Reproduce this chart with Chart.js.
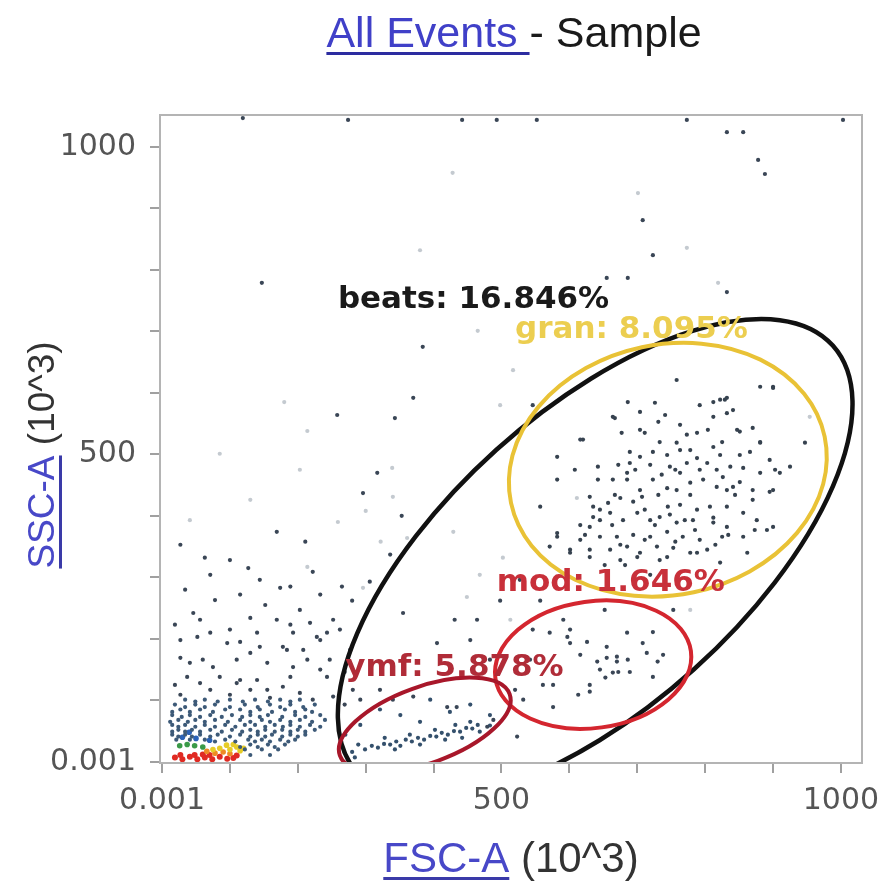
<!DOCTYPE html>
<html>
<head>
<meta charset="utf-8">
<script src="https://cdn.jsdelivr.net/npm/chart.js@4.4.1/dist/chart.umd.min.js"></script>
<style>
  html, body { margin: 0; padding: 0; background: #fff; }
  #wrap { width: 880px; height: 887px; }
</style>
</head>
<body>
<div id="wrap"><canvas id="plot" width="880" height="887"></canvas></div>
<script>
// axis ticks (FSC-A / SSC-A, x10^3)
const tickValues = [0, 100, 200, 300, 400, 500, 600, 700, 800, 900, 1000];
const tickLabels = { 0: '0.001', 500: '500', 1000: '1000' };

// gates: centre, end of long axis, end of short axis (data units)
const gateNames = ['beats', 'gran', 'mod', 'ymf'];
const gatePercents = ['16.846%', '8.095%', '1.646%', '5.878%'];
const gateCenters = [[638, 329], [745, 475], [635, 158], [387, 60]];
const gateMajorEnds = [[988, 677], [976, 529], [779, 180], [512, 110]];
const gateMinorEnds = [[492, 507], [784, 276], [648, 56], [407, 2]];

// events (FSC-A, SSC-A)
const scatterEvents = [
  [147, 779], [384, 675], [119, 1047], [274, 1044], [442, 1044], [493, 1044], [655, 787], [686, 787],
  [708, 881], [723, 824], [832, 1024], [856, 1024], [878, 979], [888, 956], [1003, 1044], [552, 1044],
  [773, 1044], [832, 764], [370, 592], [258, 564], [343, 559], [317, 470], [296, 437], [353, 400],
  [169, 374], [211, 358], [63, 332], [127, 315], [222, 309], [336, 337], [306, 293], [265, 285],
  [174, 283], [189, 285], [280, 262], [46, 242], [355, 242], [616, 524], [546, 580],
  [100, 215], [140, 210], [169, 231], [193, 210], [218, 226], [243, 210], [252, 231], [27, 198],
  [52, 203], [71, 210], [96, 193], [115, 195], [144, 187], [178, 187], [208, 182], [228, 203],
  [405, 193], [464, 231], [27, 169], [41, 161], [60, 166], [75, 154], [110, 166], [130, 177],
  [155, 161], [184, 182], [193, 154], [214, 166], [233, 150], [243, 138], [37, 138], [56, 128],
  [85, 138], [110, 128], [115, 133], [140, 133], [155, 117], [178, 122], [189, 138], [203, 112],
  [222, 101], [252, 106], [281, 117], [321, 117], [340, 101], [370, 106], [420, 89], [434, 89],
  [523, 41], [532, 101], [488, 68], [479, 57], [454, 198], [498, 262], [431, 231], [527, 296],
  [557, 262], [483, 166], [520, 117],
  [34, 280], [78, 263], [115, 272], [152, 255], [203, 247], [233, 272], [56, 231], [130, 234],
  [19, 223], [189, 223], [71, 304], [100, 328], [144, 296], [27, 353], [233, 198], [262, 215],
  [247, 166], [269, 146], [277, 182], [19, 125], [71, 117], [100, 109], [130, 117], [159, 104],
  [292, 101], [269, 93], [27, 109]
];
const faintEvents = [
  [465, 701], [428, 958], [701, 925], [773, 836], [819, 779], [214, 538], [85, 501], [180, 585],
  [339, 478], [340, 431], [300, 408], [259, 390], [322, 358], [429, 374], [361, 364], [214, 317],
  [296, 283], [498, 580], [502, 332], [468, 304], [449, 268], [517, 637], [611, 429], [954, 561],
  [130, 426], [41, 393], [203, 475], [380, 832], [513, 231], [778, 247]
];
const debrisEvents = [
  [34, 101], [63, 101], [100, 101], [137, 101], [174, 101], [203, 101],
  [19, 93], [49, 93], [78, 93], [122, 93], [159, 93], [189, 93], [225, 93],
  [27, 85], [56, 85], [93, 85], [115, 85], [144, 85], [181, 85], [211, 85],
  [15, 76], [41, 76], [71, 76], [103, 76], [130, 76], [156, 76], [196, 76], [233, 76],
  [24, 68], [49, 68], [78, 68], [115, 68], [147, 68], [174, 68], [203, 68], [240, 68],
  [15, 60], [34, 60], [63, 60], [93, 60], [122, 60], [137, 60], [166, 60], [189, 60], [218, 60],
  [24, 52], [44, 52], [71, 52], [103, 52], [130, 52], [152, 52], [177, 52], [200, 52], [225, 52],
  [15, 44], [34, 44], [56, 44], [82, 44], [115, 44], [141, 44], [162, 44], [189, 44], [211, 44],
  [21, 36], [41, 36], [63, 36], [93, 36], [127, 36], [147, 36], [174, 36], [196, 36],
  [130, 28], [156, 28], [181, 28], [122, 20], [147, 20], [171, 20], [130, 11], [159, 11],
  [49, 98], [82, 98], [119, 98], [156, 98], [189, 98],
  [34, 89], [63, 89], [100, 89], [141, 89], [174, 89], [208, 89],
  [15, 81], [41, 81], [75, 81], [130, 81], [162, 81], [196, 81], [221, 81],
  [29, 73], [56, 73], [88, 73], [118, 73], [144, 73], [177, 73], [211, 73],
  [12, 65], [38, 65], [63, 65], [97, 65], [130, 65], [159, 65], [189, 65], [221, 65],
  [24, 57], [49, 57], [78, 57], [108, 57], [152, 57], [178, 57], [203, 57], [233, 57],
  [15, 49], [34, 49], [56, 49], [88, 49], [118, 49], [141, 49], [166, 49], [189, 49], [211, 49],
  [24, 41], [44, 41], [71, 41], [100, 41], [130, 41], [152, 41], [177, 41], [200, 41],
  [78, 33], [108, 33], [137, 33], [159, 33], [186, 33], [115, 24], [141, 24], [166, 24]
];
const densityRed = [[19, 7], [30, 4], [41, 8], [52, 4], [63, 7], [74, 4], [85, 8], [96, 5], [27, 11], [48, 11], [70, 11], [105, 6], [110, 10], [60, 12]];
const densityOrange = [[78, 14], [90, 16], [100, 13], [66, 17]];
const densityYellow = [[85, 22], [100, 20], [110, 24], [115, 18], [95, 27], [75, 20], [105, 28], [120, 22]];
const densityGreen = [[26, 26], [37, 28], [48, 26], [60, 24]];
const densityBlue = [[30, 40], [50, 38], [70, 35], [40, 48]];
const ymfEvents = [
  [299, 20], [309, 26], [318, 23], [327, 29], [336, 28], [345, 33], [351, 26], [359, 36], [368, 33],
  [377, 39], [386, 36], [395, 42], [404, 41], [412, 47], [421, 44], [430, 50], [439, 49], [448, 55],
  [457, 54], [465, 60], [328, 39], [365, 44], [402, 52], [432, 60], [454, 65], [343, 20], [380, 28],
  [417, 36], [442, 39], [468, 49], [280, 16], [289, 28], [483, 59],
  [292, 60], [321, 85], [351, 76], [395, 101], [424, 81], [454, 93], [483, 76], [380, 65], [270, 44], [284, 7]
];
const modEvents = [
  [546, 215], [571, 210], [591, 231], [601, 215], [597, 203], [601, 193], [626, 195], [655, 187],
  [641, 163], [655, 169], [670, 171], [670, 163], [645, 150], [653, 137], [664, 145], [672, 146],
  [686, 166], [689, 146], [685, 210], [708, 193], [723, 211], [714, 177], [730, 163], [723, 138],
  [630, 125], [630, 114], [613, 109], [576, 89], [561, 125], [576, 125], [652, 247], [753, 247],
  [738, 174], [616, 174], [542, 166]
];
const granEvents = [
  [686, 585], [704, 569], [726, 584], [792, 580], [812, 585], [829, 589], [832, 567], [847, 540],
  [851, 537], [870, 543], [881, 520], [900, 610], [731, 553], [711, 535], [677, 535], [620, 524],
  [667, 559], [763, 548], [773, 532], [788, 535], [804, 540], [733, 520], [758, 519], [825, 520],
  [812, 512], [851, 499], [866, 504], [895, 491], [689, 504], [704, 496], [723, 504], [744, 499],
  [763, 507], [788, 494], [803, 486], [817, 475], [837, 480], [856, 478], [881, 470], [903, 475],
  [582, 496], [608, 475], [642, 480], [672, 483], [689, 486], [748, 480], [773, 486], [642, 459],
  [664, 459], [685, 459], [704, 442], [723, 459], [744, 445], [758, 442], [778, 454], [797, 459],
  [817, 447], [832, 442], [851, 455], [870, 442], [895, 439], [630, 431], [635, 415], [657, 421],
  [675, 429], [694, 423], [707, 431], [731, 434], [745, 415], [763, 418], [788, 410], [807, 415],
  [832, 415], [856, 405], [876, 393], [900, 382], [616, 385], [635, 398], [660, 405], [679, 393],
  [700, 405], [719, 393], [733, 398], [758, 389], [782, 393], [812, 389], [832, 382], [582, 366],
  [616, 361], [645, 366], [670, 366], [694, 369], [719, 366], [744, 374], [767, 366], [792, 361],
  [825, 366], [856, 366], [601, 345], [630, 345], [660, 345], [685, 350], [704, 340], [729, 350],
  [753, 348], [778, 340], [803, 345], [862, 340],
  [664, 561], [758, 621], [822, 589], [832, 592], [881, 610], [900, 608], [947, 519], [910, 470],
  [900, 442], [873, 377], [891, 377], [834, 369], [822, 324], [788, 340], [744, 333], [700, 333],
  [675, 328], [630, 333], [601, 340], [571, 350], [582, 372], [630, 382], [645, 393], [582, 459],
  [557, 415], [685, 470], [763, 470], [812, 561], [841, 572], [881, 519], [925, 480], [826, 463],
  [841, 447], [870, 426], [812, 397],
  [697, 475], [719, 483], [736, 467], [756, 475], [711, 410], [726, 385], [748, 402], [770, 393],
  [675, 353], [711, 361], [733, 328], [756, 358], [663, 385], [645, 410], [667, 434], [778, 434],
  [792, 475], [822, 499], [844, 434], [815, 353], [785, 377], [719, 304], [682, 320], [652, 320],
  [623, 369], [704, 540], [741, 564], [778, 507]
];

const toPoints = arr => arr.map(p => ({ x: p[0], y: p[1] }));

function dotSet(arr, color, r) {
  return {
    data: toPoints(arr),
    backgroundColor: color,
    borderWidth: 0,
    pointRadius: r || 2.1,
    pointHoverRadius: r || 2.1
  };
}

const gatePlugin = {
  id: 'gates',
  afterDatasetsDraw(chart, args, opts) {
    const { ctx, chartArea, scales: { x, y } } = chart;
    const px = p => [x.getPixelForValue(p[0]), y.getPixelForValue(p[1])];
    ctx.save();
    ctx.beginPath();
    ctx.rect(chartArea.left, chartArea.top, chartArea.right - chartArea.left, chartArea.bottom - chartArea.top);
    ctx.clip();
    gateNames.forEach((name, i) => {
      const c = px(gateCenters[i]);
      const m = px(gateMajorEnds[i]);
      const n = px(gateMinorEnds[i]);
      const a = Math.hypot(m[0] - c[0], m[1] - c[1]);
      const b = Math.hypot(n[0] - c[0], n[1] - c[1]);
      const rot = Math.atan2(m[1] - c[1], m[0] - c[0]);
      ctx.beginPath();
      ctx.ellipse(c[0], c[1], a, b, rot, 0, Math.PI * 2);
      ctx.strokeStyle = opts.lineColors[i];
      ctx.lineWidth = opts.lineWidths[i];
      ctx.stroke();
    });
    ctx.font = 'bold 31px "DejaVu Sans"';
    ctx.textBaseline = 'alphabetic';
    ctx.textAlign = 'left';
    gateNames.forEach((name, i) => {
      const p = px(opts.labelAt[i]);
      ctx.fillStyle = opts.textColors[i];
      ctx.fillText(name + ': ' + gatePercents[i], p[0], p[1]);
    });
    ctx.restore();
  }
};

function linkText(ctx, parts, cx, baseline, underlineOffset) {
  let total = 0;
  parts.forEach(p => { p.w = ctx.measureText(p.text).width; total += p.w; });
  let xPos = cx - total / 2;
  parts.forEach(p => {
    ctx.fillStyle = p.color;
    ctx.fillText(p.text, xPos, baseline);
    if (p.underline) {
      ctx.fillStyle = p.underline;
      ctx.fillRect(xPos, baseline + underlineOffset, p.w, 3);
    }
    xPos += p.w;
  });
}

const framePlugin = {
  id: 'frame',
  afterDraw(chart) {
    const { ctx, chartArea } = chart;
    ctx.save();
    ctx.strokeStyle = '#b4b4b4';
    ctx.lineWidth = 2;
    ctx.strokeRect(chartArea.left, chartArea.top, chartArea.right - chartArea.left, chartArea.bottom - chartArea.top);

    ctx.textAlign = 'left';
    ctx.textBaseline = 'alphabetic';
    ctx.font = '43px "Liberation Sans", Arial, sans-serif';
    linkText(ctx, [
      { text: 'All Events ', color: '#4040c8', underline: '#2c2ca0' },
      { text: '- Sample', color: '#1a1a1a' }
    ], 514, 47, 5);

    ctx.font = '42px "Liberation Sans", Arial, sans-serif';
    linkText(ctx, [
      { text: 'FSC-A', color: '#4848c8', underline: '#3a3aa8' },
      { text: ' (10^3)', color: '#333' }
    ], 511, 872, 5);

    ctx.translate(54, 455);
    ctx.rotate(-Math.PI / 2);
    ctx.font = '37px "Liberation Sans", Arial, sans-serif';
    linkText(ctx, [
      { text: 'SSC-A', color: '#4848c8', underline: '#3a3aa8' },
      { text: ' (10^3)', color: '#333' }
    ], 0, 0, 5);
    ctx.restore();
  }
};

const tickFont = { family: '"DejaVu Sans", sans-serif', size: 30 };

new Chart(document.getElementById('plot'), {
  type: 'scatter',
  data: {
    datasets: [
      dotSet(faintEvents, '#c4cad0'),
      dotSet(scatterEvents, '#3a4656'),
      dotSet(debrisEvents, '#3d5a78'),
      dotSet(densityBlue, '#2a62b8', 2.8),
      dotSet(densityGreen, '#3a9a48', 2.8),
      dotSet(densityYellow, '#e6cc28', 2.8),
      dotSet(densityOrange, '#ee8a24', 2.8),
      dotSet(densityRed, '#e02a22', 3),
      dotSet(ymfEvents, '#34506c'),
      dotSet(modEvents, '#3a4656'),
      dotSet(granEvents, '#36424f')
    ]
  },
  options: {
    responsive: false,
    animation: false,
    events: [],
    layout: { padding: { top: 115, right: 18, left: 0, bottom: 0 } },
    plugins: {
      legend: { display: false },
      tooltip: { enabled: false },
      gates: {
        lineColors: ['#111111', '#e9c236', '#d4262f', '#a8172a'],
        lineWidths: [4.5, 4, 4, 4],
        textColors: ['#1a1a1a', '#ecce50', '#c8303a', '#b02c38'],
        labelAt: [[259, 738], [520, 689], [493, 278], [270, 140]]
      }
    },
    scales: {
      x: {
        type: 'linear',
        min: -3,
        max: 1031,
        afterFit: s => { s.height = 124; s.paddingLeft = 0; s.paddingRight = 0; },
        afterBuildTicks: s => { s.ticks = tickValues.map(v => ({ value: v })); },
        ticks: {
          callback: v => tickLabels[v] || '',
          font: tickFont,
          color: '#555',
          padding: 10,
          maxRotation: 0,
          autoSkip: false
        },
        grid: { drawOnChartArea: false, drawTicks: true, tickLength: 10, color: '#a0a0a0', lineWidth: 2 },
        border: { display: false }
      },
      y: {
        type: 'linear',
        min: -2,
        max: 1052,
        afterFit: s => { s.width = 160; s.paddingTop = 0; s.paddingBottom = 0; },
        afterBuildTicks: s => { s.ticks = tickValues.map(v => ({ value: v })); },
        ticks: {
          callback: v => tickLabels[v] || '',
          font: tickFont,
          color: '#555',
          padding: 14,
          autoSkip: false
        },
        grid: { drawOnChartArea: false, drawTicks: true, tickLength: 10, color: '#a0a0a0', lineWidth: 2 },
        border: { display: false }
      }
    }
  },
  plugins: [gatePlugin, framePlugin]
});
</script>
</body>
</html>
